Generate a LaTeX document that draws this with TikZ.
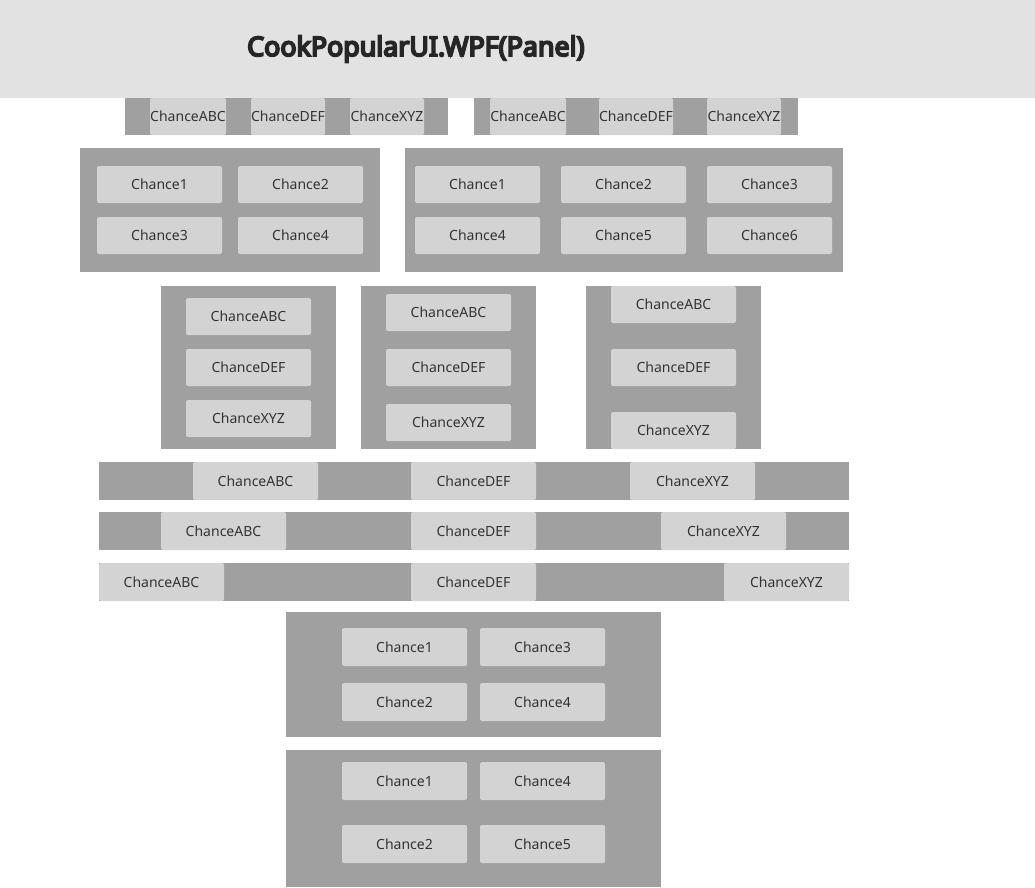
\documentclass[tikz,border=0pt]{standalone}
\usepackage{fontspec}
\setmainfont{Noto Sans}
\newfontfamily\ttlfont{Noto Sans}[FakeBold=7]
\definecolor{pnlc}{HTML}{A0A0A0}
\definecolor{btnc}{HTML}{D3D3D3}
\definecolor{barc}{HTML}{E2E2E2}
\definecolor{txtc}{HTML}{333333}
\definecolor{ttlc}{HTML}{262626}
\tikzset{
  panel/.style={fill=pnlc, draw=none, inner sep=0pt, outer sep=0pt, anchor=north west},
  btn/.style={fill=btnc, draw=none, rounded corners=2pt, inner sep=0pt, outer sep=0pt, anchor=north west, text=txtc, font=\fontsize{14}{16}\selectfont},
}
\newcommand\pnl[5]{\node[panel, minimum width=#4pt, minimum height=#5pt] (#1) at (#2,#3) {};}
\newcommand\bt[6]{\node[btn, minimum width=#4pt, minimum height=#5pt] (#1) at (#2,#3) {#6};}
\begin{document}
\begin{tikzpicture}[x=1pt,y=-1pt]
\useasboundingbox (0,0) rectangle (1035,887);
% title bar
\node[panel, fill=barc, minimum width=1035pt, minimum height=98pt] (title) at (0,0) {};
\node[anchor=base west, inner sep=0pt, text=ttlc, font=\ttlfont\fontsize{26.8}{30}\selectfont] (ttl) at (247,56) {CookPopularUI.WPF(Panel)};
% row 1
\pnl{ra}{125}{98}{323}{37}
\bt{ra1}{150}{98}{76}{37}{ChanceABC}
\bt{ra2}{251}{98}{74}{37}{ChanceDEF}
\bt{ra3}{350}{98}{74}{37}{ChanceXYZ}
\pnl{rb}{474}{98}{324}{37}
\bt{rb1}{490}{98}{76}{37}{ChanceABC}
\bt{rb2}{599}{98}{74}{37}{ChanceDEF}
\bt{rb3}{707}{98}{74}{37}{ChanceXYZ}
% row 2
\pnl{ga}{80}{148}{300}{124}
\bt{ga1}{97}{166}{125}{37}{Chance1}
\bt{ga2}{238}{166}{125}{37}{Chance2}
\bt{ga3}{97}{217}{125}{37}{Chance3}
\bt{ga4}{238}{217}{125}{37}{Chance4}
\pnl{gb}{405}{148}{438}{124}
\bt{gb1}{415}{166}{125}{37}{Chance1}
\bt{gb2}{561}{166}{125}{37}{Chance2}
\bt{gb3}{707}{166}{125}{37}{Chance3}
\bt{gb4}{415}{217}{125}{37}{Chance4}
\bt{gb5}{561}{217}{125}{37}{Chance5}
\bt{gb6}{707}{217}{125}{37}{Chance6}
% row 3
\pnl{va}{161}{286}{175}{163}
\bt{va1}{186}{298}{125}{37}{ChanceABC}
\bt{va2}{186}{349}{125}{37}{ChanceDEF}
\bt{va3}{186}{400}{125}{37}{ChanceXYZ}
\pnl{vb}{361}{286}{175}{163}
\bt{vb1}{386}{294}{125}{37}{ChanceABC}
\bt{vb2}{386}{349}{125}{37}{ChanceDEF}
\bt{vb3}{386}{404}{125}{37}{ChanceXYZ}
\pnl{vc}{586}{286}{175}{163}
\bt{vc1}{611}{286}{125}{37}{ChanceABC}
\bt{vc2}{611}{349}{125}{37}{ChanceDEF}
\bt{vc3}{611}{412}{125}{37}{ChanceXYZ}
% row 4
\pnl{ha}{99}{462}{750}{38}
\bt{ha1}{193}{462}{125}{38}{ChanceABC}
\bt{ha2}{411}{462}{125}{38}{ChanceDEF}
\bt{ha3}{630}{462}{125}{38}{ChanceXYZ}
\pnl{hb}{99}{512}{750}{38}
\bt{hb1}{161}{512}{125}{38}{ChanceABC}
\bt{hb2}{411}{512}{125}{38}{ChanceDEF}
\bt{hb3}{661}{512}{125}{38}{ChanceXYZ}
\pnl{hc}{99}{563}{750}{38}
\bt{hc1}{99}{563}{125}{38}{ChanceABC}
\bt{hc2}{411}{563}{125}{38}{ChanceDEF}
\bt{hc3}{724}{563}{125}{38}{ChanceXYZ}
% row 5
\pnl{ua}{286}{612}{375}{125}
\bt{ua1}{342}{628}{125}{38}{Chance1}
\bt{ua2}{480}{628}{125}{38}{Chance3}
\bt{ua3}{342}{683}{125}{38}{Chance2}
\bt{ua4}{480}{683}{125}{38}{Chance4}
\pnl{ub}{286}{750}{375}{137}
\bt{ub1}{342}{762}{125}{38}{Chance1}
\bt{ub2}{480}{762}{125}{38}{Chance4}
\bt{ub3}{342}{825}{125}{38}{Chance2}
\bt{ub4}{480}{825}{125}{38}{Chance5}
\end{tikzpicture}
\end{document}
